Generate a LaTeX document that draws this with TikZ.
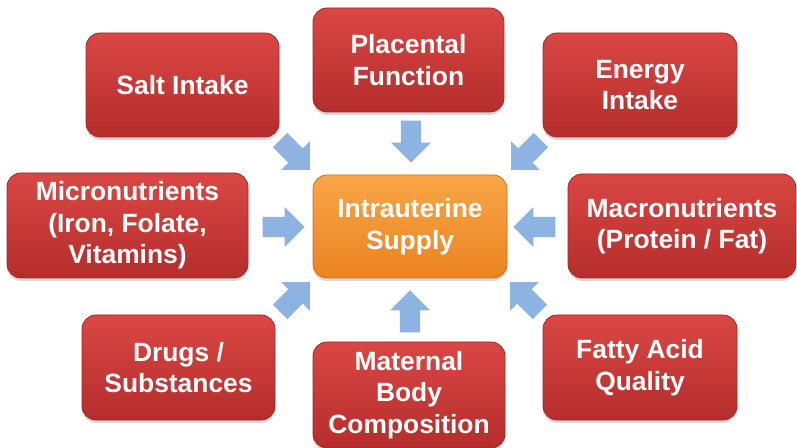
\documentclass[tikz,border=0pt]{standalone}
\usepackage{fontspec}
\setmainfont{Liberation Sans}
\usetikzlibrary{shapes.arrows,shadows}
\definecolor{redtop}{HTML}{DA4744}
\definecolor{redbot}{HTML}{B42D2C}
\definecolor{redline}{HTML}{A22726}
\definecolor{orgtop}{HTML}{F9A648}
\definecolor{orgbot}{HTML}{EA8320}
\definecolor{orgline}{HTML}{D0701A}
\definecolor{arrowblue}{HTML}{8DB3E2}
\tikzset{
  factor/.style={draw=redline, line width=0.8pt, rounded corners=14pt,
    top color=redtop, bottom color=redbot, text=white, align=center,
    font=\bfseries\fontsize{26.4}{31.5}\selectfont, inner sep=0pt,
    drop shadow={shadow xshift=0pt, shadow yshift=-3pt, opacity=0.3}},
  hub/.style={factor, draw=orgline, top color=orgtop, bottom color=orgbot},
  inarrow/.style={single arrow, fill=arrowblue, draw=none, anchor=tip,
    minimum height=42pt, inner xsep=0pt, inner ysep=10pt,
    single arrow head extend=10pt, single arrow tip angle=90}
}
\begin{document}
\begin{tikzpicture}[x=1pt,y=1pt]
\useasboundingbox (0,0) rectangle (797,447);
\fill[white] (0,0) rectangle (797,447);
\begin{scope}
\clip (0,0) rectangle (797,447);
\node[factor, minimum width=193pt, minimum height=104pt] (salt) at (182.5,362) {Salt Intake};
\node[factor, minimum width=191pt, minimum height=104pt] (plac) at (408.5,387) {Placental\\Function};
\node[factor, minimum width=194pt, minimum height=104pt] (energy) at (640,362) {Energy\\Intake};
\node[factor, minimum width=241pt, minimum height=105pt] (micro) at (127.5,221.5) {Micronutrients\\(Iron, Folate,\\Vitamins)};
\node[hub, minimum width=194pt, minimum height=103pt] (hub) at (410,220.5) {Intrauterine\\Supply};
\node[factor, minimum width=228pt, minimum height=104pt] (macro) at (682,221) {Macronutrients\\(Protein / Fat)};
\node[factor, minimum width=193pt, minimum height=105pt] (drugs) at (178.5,79.5) {Drugs /\\Substances};
\node[factor, minimum width=192pt, minimum height=106pt] (maternal) at (409,52) {Maternal\\Body\\Composition};
\node[factor, minimum width=194pt, minimum height=105pt] (fatty) at (640,79.5) {Fatty Acid\\Quality};
\end{scope}
\node[inarrow, rotate=-90] (aN) at (411,284) {};
\node[inarrow, rotate=90] (aS) at (410,157) {};
\node[inarrow, rotate=0] (aW) at (305,220) {};
\node[inarrow, rotate=180] (aE) at (513,220) {};
\node[inarrow, rotate=-45] (aNW) at (310,277) {};
\node[inarrow, rotate=-135] (aNE) at (511,277) {};
\node[inarrow, rotate=135] (aSE) at (510,165) {};
\node[inarrow, rotate=45] (aSW) at (310,165) {};
\end{tikzpicture}
\end{document}
